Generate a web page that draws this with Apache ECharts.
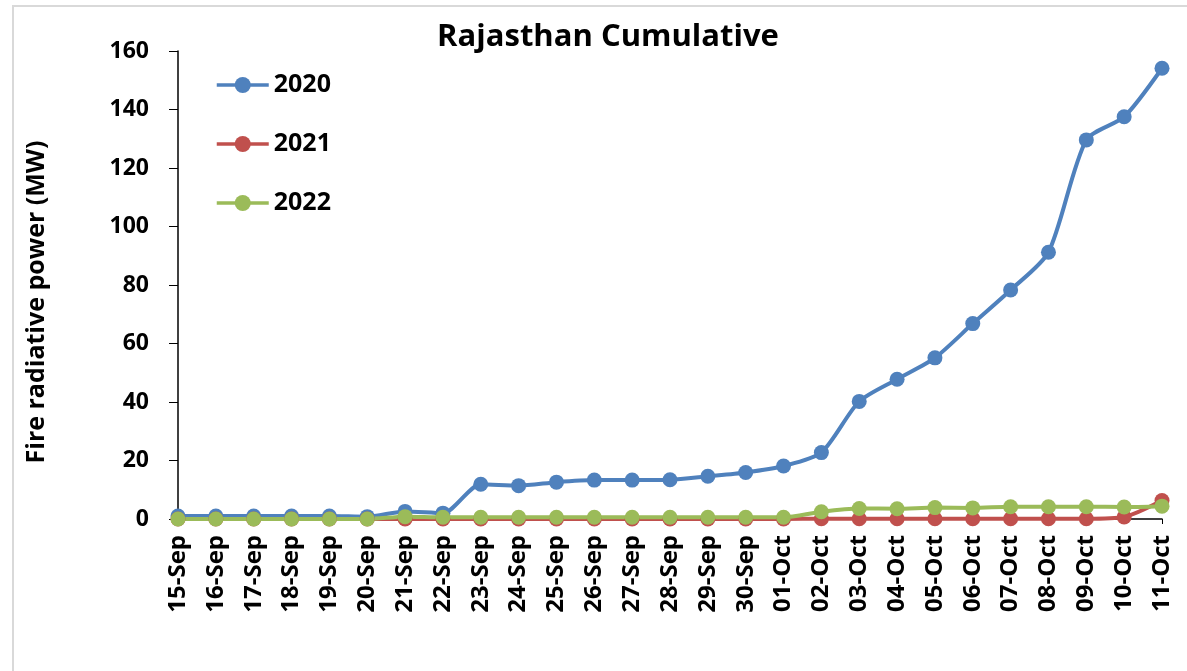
<!DOCTYPE html>
<html><head><meta charset="utf-8">
<script src="https://cdn.jsdelivr.net/npm/echarts@6/dist/echarts.min.js"></script>
<style>
html,body{margin:0;padding:0;background:#fff;overflow:hidden}
#frame{position:absolute;left:12px;top:5px;width:1200px;height:700px;border:2px solid #d9d9d9;box-sizing:border-box}
#c{position:absolute;left:0;top:0;width:1187px;height:671px}
</style></head>
<body>
<div id="frame"></div>
<div id="c"></div>
<script>
const categories = ['15-Sep','16-Sep','17-Sep','18-Sep','19-Sep','20-Sep','21-Sep','22-Sep','23-Sep','24-Sep','25-Sep','26-Sep','27-Sep','28-Sep','29-Sep','30-Sep','01-Oct','02-Oct','03-Oct','04-Oct','05-Oct','06-Oct','07-Oct','08-Oct','09-Oct','10-Oct','11-Oct'];
const s2020 = [1.0,1.0,1.0,1.0,1.0,0.8,2.6,2.0,11.9,11.4,12.6,13.3,13.3,13.4,14.6,15.9,18.1,22.7,40.2,47.8,55.1,66.8,78.3,91.2,129.6,137.5,154.1];
const s2021 = [0,0,0,0,0,0,0,0,0,0,0,0,0,0,0,0,0,0.1,0.1,0.1,0.1,0.1,0.1,0.1,0.1,0.7,6.3];
const s2022 = [0,0,0,0,0,0,0.8,0.6,0.6,0.6,0.6,0.6,0.6,0.6,0.6,0.6,0.6,2.5,3.6,3.5,3.9,3.8,4.2,4.2,4.2,4.1,4.4];
const yTicks = {min:0, max:160, interval:20};
const names = ['2020','2021','2022'];
const colors = ['#4F81BD','#C0504D','#9BBB59'];
const yName = 'Fire radiative power (MW)';
const FONT = 'Open Sans';

const chart = echarts.init(document.getElementById('c'));
function mk(name, data, color){
  return {name, type:'line', data, smooth:0.25, symbol:'circle', symbolSize:15,
    lineStyle:{width:4,color}, itemStyle:{color}, z: 2};
}
chart.setOption({
  animation:false,
  title:{text:'Rajasthan Cumulative', left:603, top:17, textAlign:'center',
    textStyle:{fontFamily:FONT,fontWeight:'bold',fontSize:31,color:'#000'}},
  legend:{orient:'vertical', left:210, top:67, itemGap:33, itemWidth:52, itemHeight:20,
    lineStyle:{width:3.5},
    data:names, textStyle:{fontFamily:FONT,fontWeight:'bold',fontSize:25,lineHeight:26,color:'#000'}},
  grid:{left:178, right:25, top:51, bottom:152, containLabel:false},
  graphic:[{type:'text', x:37, y:302, rotation:Math.PI/2,
    style:{text:yName, fontFamily:FONT, fontWeight:'bold', fontSize:25, fill:'#000',
      align:'center', verticalAlign:'middle'}}],
  xAxis:{type:'category', data:categories, boundaryGap:false,
    axisLine:{lineStyle:{color:'#000',width:1.5}},
    axisTick:{show:true, alignWithLabel:true, length:5, lineStyle:{color:'#000'}},
    axisLabel:{rotate:90, interval:0, fontFamily:FONT, fontWeight:'bold', fontSize:24, color:'#000', margin:16},
    splitLine:{show:false}},
  yAxis:{type:'value', min:yTicks.min, max:yTicks.max, interval:yTicks.interval,
    axisLine:{show:true, lineStyle:{color:'#000',width:1.5}},
    axisTick:{show:true, length:9, lineStyle:{color:'#000'}},
    axisLabel:{fontFamily:FONT, fontWeight:'bold', fontSize:23, color:'#000', margin:29},
    splitLine:{show:false}},
  series:[mk(names[0],s2020,colors[0]), mk(names[1],s2021,colors[1]), mk(names[2],s2022,colors[2])]
});
</script>
</body></html>
